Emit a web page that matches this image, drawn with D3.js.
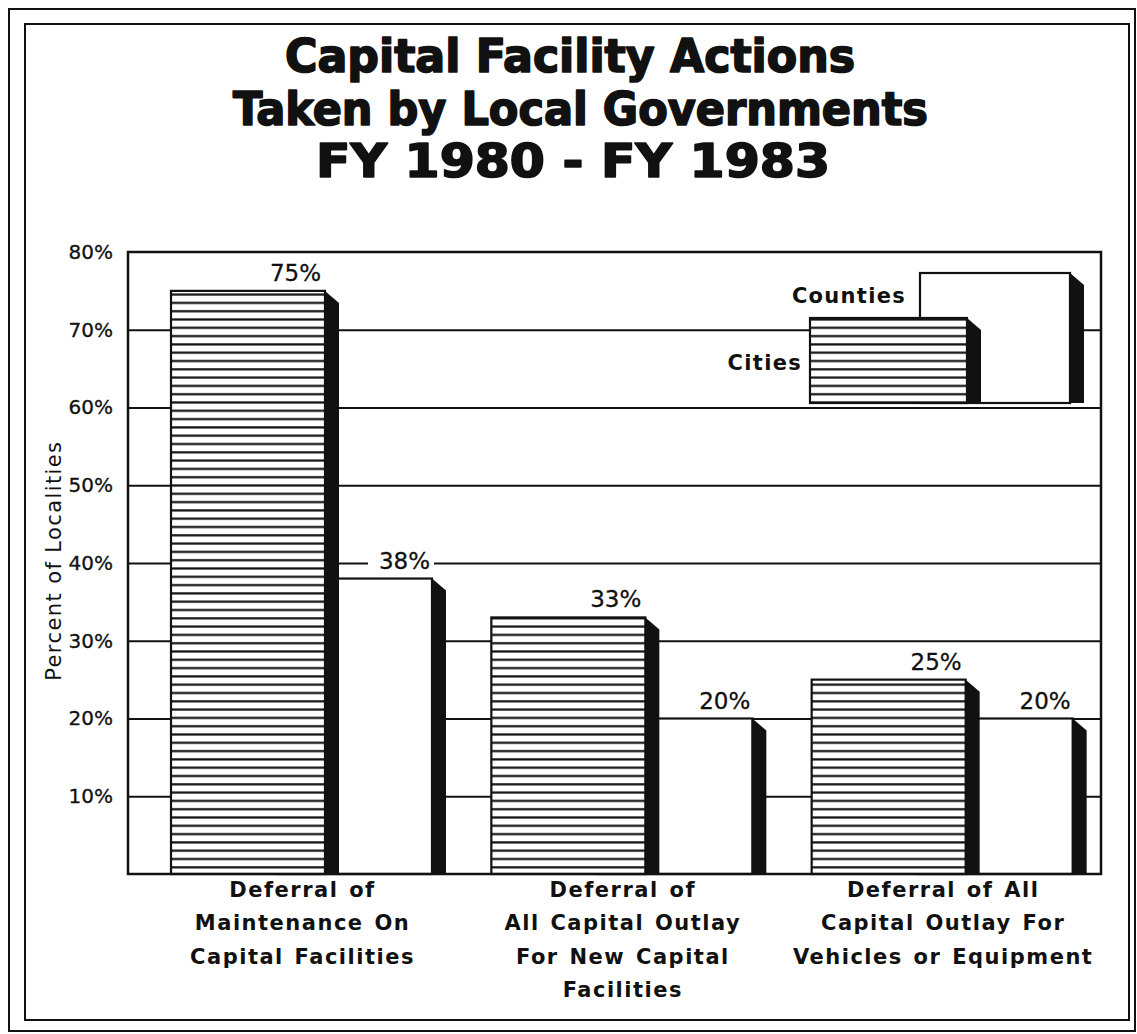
<!DOCTYPE html>
<html><head><meta charset="utf-8">
<script src="https://cdn.jsdelivr.net/npm/d3@7"></script>
<style>body{margin:0;background:#fff} svg{display:block}</style>
</head><body>
<svg id="chart" width="1137" height="1034"></svg>
<script>
// ---------- data ----------
const titleLines = ["Capital Facility Actions", "Taken by Local Governments", "FY 1980 - FY 1983"];
const categories = ["maintenance", "newFacilities", "vehicles"];
const categoryLabels = [
  ["Deferral of", "Maintenance On", "Capital Facilities"],
  ["Deferral of", "All Capital Outlay", "For New Capital", "Facilities"],
  ["Deferral of All", "Capital Outlay For", "Vehicles or Equipment"]
];
const seriesNames = ["Cities", "Counties"];
const citiesValues = [75, 33, 25];
const countiesValues = [38, 20, 20];
const yTickValues = [10, 20, 30, 40, 50, 60, 70, 80];
const gridValues = [10, 20, 30, 40, 50, 60, 70];
const yAxisTitle = "Percent of Localities";

// ---------- layout ----------
const svg = d3.select("#chart");
const plot = {left: 128, right: 1101, top: 252, bottom: 874};
const y = d3.scaleLinear().domain([0, 80]).range([plot.bottom, plot.top]);
const x0 = d3.scaleBand().domain(categories).range([131, 1092]);
const barW = 154, shadeW = 14, shadeDrop = 12;
const xSeries = d3.scaleOrdinal().domain(seriesNames).range([40, 147]);
const FONT = "'DejaVu Sans', Verdana, sans-serif";

// defs: horizontal hatch
const defs = svg.append("defs");
const pat = defs.append("pattern").attr("id", "hatch").attr("patternUnits", "userSpaceOnUse")
  .attr("width", 10).attr("height", 8.3);
pat.append("rect").attr("width", 10).attr("height", 8.3).attr("fill", "#fff");
pat.append("rect").attr("y", 3).attr("width", 10).attr("height", 2.2).attr("fill", "#111");

// ---------- outer frame ----------
svg.append("rect").attr("x", 9).attr("y", 9).attr("width", 1126).attr("height", 1022)
  .attr("fill", "none").attr("stroke", "#111").attr("stroke-width", 2);
svg.append("rect").attr("x", 25).attr("y", 24).attr("width", 1104).attr("height", 996)
  .attr("fill", "none").attr("stroke", "#111").attr("stroke-width", 2);

// ---------- title ----------
const titleSpec = [{x: 285, w: 570, b: 72}, {x: 233, w: 695, b: 125}, {x: 316, w: 514, b: 177}];
svg.append("g").selectAll("text").data(titleLines).join("text")
  .attr("x", (d, i) => titleSpec[i].x).attr("y", (d, i) => titleSpec[i].b)
  .attr("textLength", (d, i) => titleSpec[i].w).attr("lengthAdjust", "spacingAndGlyphs")
  .attr("font-family", "'DejaVu Sans Condensed', 'DejaVu Sans', sans-serif")
  .attr("font-weight", "bold").attr("font-size", 46).attr("fill", "#111")
  .attr("stroke", "#111").attr("stroke-width", 1.6).attr("stroke-linejoin", "round")
  .text(d => d);

// ---------- gridlines ----------
svg.append("g").attr("transform", `translate(${plot.left},0)`)
  .call(d3.axisLeft(y).tickValues(gridValues).tickSize(-(plot.right - plot.left)).tickFormat(""))
  .call(g => g.select(".domain").remove())
  .call(g => g.selectAll("line").attr("stroke", "#111").attr("stroke-width", 2));

// ---------- y axis labels ----------
svg.append("g").attr("transform", `translate(${plot.left},0)`)
  .call(d3.axisLeft(y).tickValues(yTickValues).tickSize(0).tickPadding(15).tickFormat(d => d + "%"))
  .call(g => g.select(".domain").remove())
  .call(g => g.selectAll("text").attr("font-family", FONT).attr("font-size", 20)
    .attr("fill", "#111").attr("stroke", "#111").attr("stroke-width", 0.3));

svg.append("text").attr("transform", `translate(61,${y(40.3)}) rotate(-90)`)
  .attr("text-anchor", "middle").attr("font-family", FONT).attr("font-size", 21)
  .attr("letter-spacing", 1.4).attr("fill", "#111").text(yAxisTitle);

// ---------- bars ----------
function shadePts(right, top, bottom) {
  return [[right, top], [right + shadeW, top + shadeDrop], [right + shadeW, bottom], [right, bottom]]
    .map(p => p.join(",")).join(" ");
}
function drawBar(g, left, top, bottom, hatch) {
  g.append("rect").attr("x", left).attr("y", top).attr("width", barW).attr("height", bottom - top)
    .attr("fill", hatch ? "url(#hatch)" : "#fff").attr("stroke", "#111").attr("stroke-width", 2.2);
  g.append("polygon").attr("points", shadePts(left + barW, top, bottom)).attr("fill", "#111");
}
const barsG = svg.append("g");
categories.forEach((c, i) => {
  const cl = x0(c) + xSeries("Counties");
  drawBar(barsG, cl, y(countiesValues[i]), y(0), false);
  const ci = x0(c) + xSeries("Cities");
  drawBar(barsG, ci, y(citiesValues[i]), y(0), true);
});

// ---------- plot frame ----------
svg.append("rect").attr("x", plot.left).attr("y", plot.top)
  .attr("width", plot.right - plot.left).attr("height", plot.bottom - plot.top)
  .attr("fill", "none").attr("stroke", "#111").attr("stroke-width", 2.5);

// ---------- value labels ----------
const labelData = [];
categories.forEach((c, i) => {
  labelData.push({x: x0(c) + xSeries("Cities") + barW - 4, y: y(citiesValues[i]) - 10, v: citiesValues[i]});
  labelData.push({x: x0(c) + xSeries("Counties") + barW - 2, y: y(countiesValues[i]) - 10, v: countiesValues[i]});
});
const lab = svg.append("g").selectAll("g").data(labelData).join("g");
lab.append("rect").attr("x", d => d.x - 62).attr("y", d => d.y - 18).attr("width", 66).attr("height", 22)
  .attr("fill", "#fff");
lab.append("text").attr("x", d => d.x).attr("y", d => d.y).attr("text-anchor", "end")
  .attr("font-family", FONT).attr("font-size", 23).attr("fill", "#111")
  .attr("stroke", "#111").attr("stroke-width", 0.3)
  .text(d => d.v + "%");

// ---------- category labels ----------
const catG = svg.append("g");
categories.forEach((c, i) => {
  const cx = x0(c) + xSeries("Cities") + (barW + xSeries("Counties") - xSeries("Cities") + shadeW) / 2 - 6;
  catG.append("text").attr("text-anchor", "middle")
    .attr("font-family", FONT).attr("font-weight", "bold").attr("font-size", 21)
    .attr("letter-spacing", 1.5).attr("word-spacing", 2).attr("fill", "#111")
    .selectAll("tspan").data(categoryLabels[i]).join("tspan")
    .attr("x", cx).attr("y", (d, j) => 897 + j * 33.3).text(d => d);
});

// ---------- legend ----------
const leg = svg.append("g");
const legBottom = 403;
leg.append("rect").attr("x", 920).attr("y", 273).attr("width", 150).attr("height", legBottom - 273)
  .attr("fill", "#fff").attr("stroke", "#111").attr("stroke-width", 2.2);
leg.append("polygon").attr("points", shadePts(1070, 273, legBottom)).attr("fill", "#111");
leg.append("rect").attr("x", 810).attr("y", 318).attr("width", 157).attr("height", legBottom - 318)
  .attr("fill", "url(#hatch)").attr("stroke", "#111").attr("stroke-width", 2.2);
leg.append("polygon").attr("points", shadePts(967, 318, legBottom)).attr("fill", "#111");
leg.append("text").attr("x", 906).attr("y", 303).attr("text-anchor", "end")
  .attr("font-family", FONT).attr("font-weight", "bold").attr("font-size", 21).attr("letter-spacing", 1.3)
  .attr("fill", "#111").text(seriesNames[1]);
leg.append("text").attr("x", 802).attr("y", 370).attr("text-anchor", "end")
  .attr("font-family", FONT).attr("font-weight", "bold").attr("font-size", 21).attr("letter-spacing", 1.3)
  .attr("fill", "#111").text(seriesNames[0]);
</script>
</body></html>
